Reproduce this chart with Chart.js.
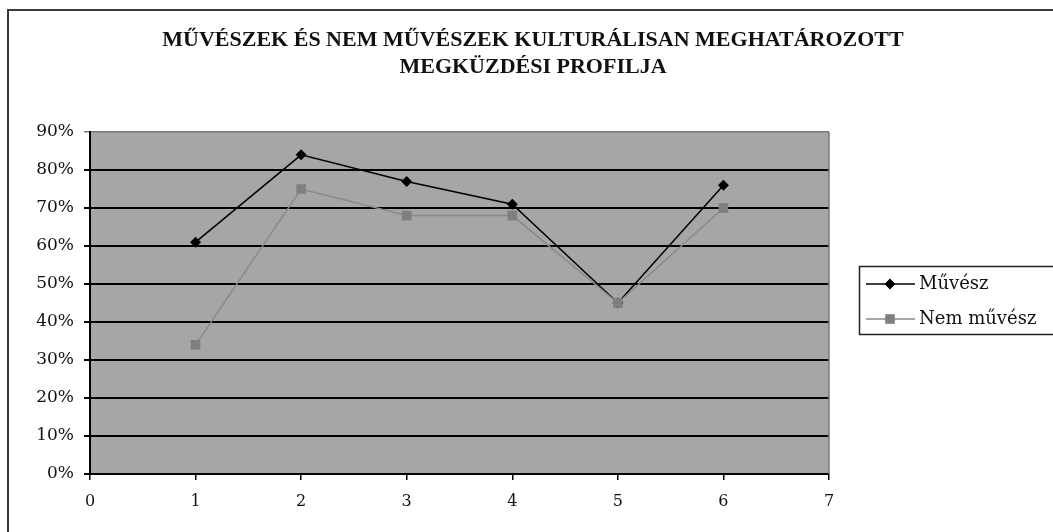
<!DOCTYPE html>
<html>
<head>
<meta charset="utf-8">
<script src="https://cdn.jsdelivr.net/npm/chart.js@4"></script>
<style>
  html, body { margin: 0; padding: 0; background: #fff; }
  #chart { display: block; }
</style>
</head>
<body>
<canvas id="chart" width="1053" height="532"></canvas>
<script>
// Chart data
const titleLines = ['MŰVÉSZEK ÉS NEM MŰVÉSZEK KULTURÁLISAN MEGHATÁROZOTT', 'MEGKÜZDÉSI PROFILJA'];
const xValues = [1, 2, 3, 4, 5, 6];
const muveszValues = [61, 84, 77, 71, 45, 76];
const nemMuveszValues = [34, 75, 68, 68, 45, 70];
const seriesLabels = ['Művész', 'Nem művész'];
const yMin = 0, yMax = 90, yStep = 10;
const xMin = 0, xMax = 7;

const toPoints = vals => vals.map((v, i) => ({ x: xValues[i], y: v }));

// Background, frame, plot area fill
const framePlugin = {
  id: 'frame',
  beforeDraw(chart) {
    const ctx = chart.ctx, a = chart.chartArea;
    ctx.save();
    ctx.fillStyle = '#fff';
    ctx.fillRect(0, 0, chart.width, chart.height);
    ctx.strokeStyle = '#3a3a3a';
    ctx.lineWidth = 2;
    ctx.strokeRect(8, 10, 1200, 700);
    ctx.fillStyle = '#a6a6a6';
    ctx.fillRect(a.left, a.top, a.right - a.left, a.bottom - a.top);
    ctx.restore();
  },
  beforeDatasetsDraw(chart) {
    const ctx = chart.ctx, a = chart.chartArea;
    ctx.save();
    ctx.strokeStyle = '#7a7a7a';
    ctx.lineWidth = 1.5;
    ctx.beginPath();
    ctx.moveTo(a.right, a.top);
    ctx.lineTo(a.right, a.bottom);
    ctx.stroke();
    ctx.restore();
  }
};

// Title and legend
function drawMarker(ctx, style, x, y, r, color) {
  ctx.fillStyle = color;
  ctx.beginPath();
  if (style === 'rectRot') {
    ctx.moveTo(x, y - r); ctx.lineTo(x + r, y); ctx.lineTo(x, y + r); ctx.lineTo(x - r, y);
    ctx.closePath();
  } else {
    const h = r * Math.SQRT1_2;
    ctx.rect(x - h, y - h, h * 2, h * 2);
  }
  ctx.fill();
}

const textPlugin = {
  id: 'texts',
  afterDraw(chart) {
    const ctx = chart.ctx;
    ctx.save();
    ctx.fillStyle = '#111';
    ctx.font = 'bold 22px "Liberation Serif"';
    ctx.textAlign = 'center';
    ctx.textBaseline = 'middle';
    ctx.fillText(titleLines[0], 533, 40);
    ctx.fillText(titleLines[1], 533, 67);

    // legend box
    ctx.fillStyle = '#fff';
    ctx.fillRect(859, 266, 300, 68);
    ctx.strokeStyle = '#222';
    ctx.lineWidth = 1.5;
    ctx.strokeRect(859.5, 266.5, 300, 68);
    const rows = [284, 319];
    chart.data.datasets.forEach((ds, i) => {
      const y = rows[i];
      ctx.strokeStyle = ds.borderColor;
      ctx.lineWidth = 1.5;
      ctx.beginPath();
      ctx.moveTo(866, y);
      ctx.lineTo(915, y);
      ctx.stroke();
      drawMarker(ctx, ds.pointStyle, 890, y, ds.pointRadius, ds.pointBackgroundColor);
      ctx.fillStyle = '#111';
      ctx.font = '18px "DejaVu Serif"';
      ctx.textAlign = 'left';
      ctx.fillText(ds.label, 919, y);
    });
    ctx.restore();
  }
};

const chart = new Chart(document.getElementById('chart').getContext('2d'), {
  type: 'line',
  data: {
    datasets: [
      {
        label: seriesLabels[0], data: toPoints(muveszValues),
        borderColor: '#000', borderWidth: 1.5,
        pointStyle: 'rectRot', pointRadius: 5.5,
        pointBackgroundColor: '#000', pointBorderColor: '#000', pointBorderWidth: 0,
        order: 1
      },
      {
        label: seriesLabels[1], data: toPoints(nemMuveszValues),
        borderColor: '#8a8a8a', borderWidth: 1.5,
        pointStyle: 'rect', pointRadius: 6.8,
        pointBackgroundColor: '#7f7f7f', pointBorderColor: '#7f7f7f', pointBorderWidth: 0,
        order: 0
      }
    ]
  },
  options: {
    responsive: false,
    animation: false,
    layout: { padding: { top: 132, right: 224, bottom: 0, left: 0 } },
    plugins: { legend: { display: false }, title: { display: false }, tooltip: { enabled: false } },
    scales: {
      x: {
        type: 'linear', min: xMin, max: xMax,
        afterFit(scale) { scale.height = 58; },
        grid: { drawOnChartArea: false, drawTicks: true, tickLength: 6, color: '#000', lineWidth: 1.5 },
        border: { display: true, color: '#000', width: 2 },
        ticks: { stepSize: 1, padding: 12, color: '#111', font: { family: 'DejaVu Serif', size: 16 } }
      },
      y: {
        min: yMin, max: yMax,
        afterFit(scale) { scale.width = 90; },
        grid: {
          drawTicks: true, tickLength: 6,
          color: c => c.tick && c.tick.value === yMax ? '#7a7a7a' : '#000',
          lineWidth: c => c.tick && c.tick.value === yMax ? 1.5 : 2
        },
        border: { display: true, color: '#000', width: 2 },
        ticks: {
          stepSize: yStep, padding: 10, color: '#111',
          font: { family: 'DejaVu Serif', size: 17 },
          callback: v => v + '%'
        }
      }
    }
  },
  plugins: [framePlugin, textPlugin]
});
</script>
</body>
</html>
